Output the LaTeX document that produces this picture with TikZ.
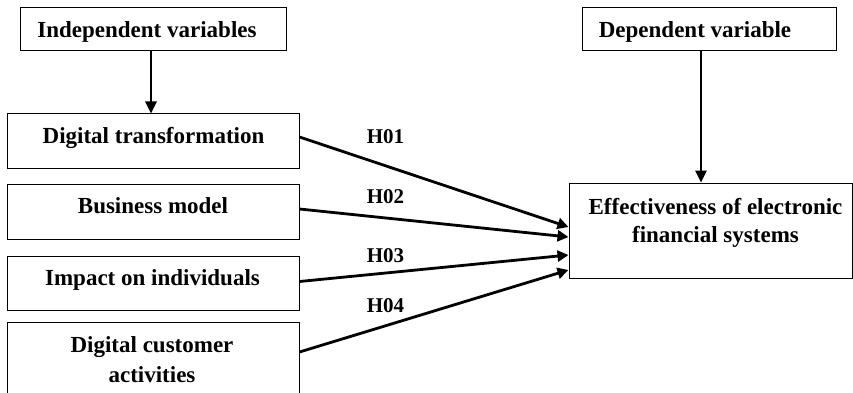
\documentclass[tikz,border=0pt]{standalone}
\usepackage{fontspec}
\setmainfont{Liberation Serif}
\usetikzlibrary{arrows.meta}
\tikzset{
  box/.style={draw=black, line width=1pt, rectangle, inner sep=0pt},
  txt/.style={font=\bfseries\fontsize{23}{28}\selectfont, inner sep=0pt, anchor=base, align=center},
  hyp/.style={font=\bfseries\fontsize{21}{25}\selectfont, inner sep=0pt, anchor=base},
  arr/.style={line width=2.8pt, -{Triangle[length=11pt,width=11pt]}},
  varr/.style={line width=2.6pt, -{Triangle[length=12pt,width=11pt]}}
}
\begin{document}
\begin{tikzpicture}[x=1pt,y=-1pt]
\useasboundingbox (0,0) rectangle (853,393);
\clip (0,0) rectangle (853,393);
% boxes
\node[box, minimum width=266pt, minimum height=43pt] (indep) at (153,29.5) {};
\node[box, minimum width=254pt, minimum height=43pt] (dep) at (709,29.5) {};
\node[box, minimum width=292pt, minimum height=54pt] (dt) at (153,141) {};
\node[box, minimum width=292pt, minimum height=55pt] (bm) at (153,211.5) {};
\node[box, minimum width=292pt, minimum height=54pt] (imp) at (153,283) {};
\node[box, minimum width=292pt, minimum height=80pt] (dca) at (153,362) {};
\node[box, minimum width=283pt, minimum height=95pt] (eff) at (710.5,230.5) {};
% texts
\node[txt] (indept) at (147,38) {Independent variables};
\node[txt] (dept) at (695,38) {Dependent variable};
\node[txt] (dtt) at (153.5,143) {Digital transformation};
\node[txt] (bmt) at (153,213) {Business model};
\node[txt] (impt) at (152.5,285) {Impact on individuals};
\node[txt, font=\bfseries\fontsize{23}{30}\selectfont] (dcat) at (152,382) {Digital customer\\activities};
\node[txt] (efft) at (715.5,242) {Effectiveness of electronic\\financial systems};
% vertical arrows
\draw[varr] ([xshift=-2pt]indep.south) -- ([xshift=-2pt]indep.south |- dt.north);
\draw[varr] ([xshift=-8pt]dep.south) -- ([xshift=-8pt]dep.south |- eff.north);
% hypothesis arrows
\draw[arr] ([yshift=4pt]dt.east) -- ([yshift=3.5pt]eff.west);
\draw[arr] ([yshift=2.5pt]bm.east) -- ([yshift=-6.5pt]eff.west);
\draw[arr] ([yshift=1.5pt]imp.east) -- ([yshift=-24.5pt]eff.west);
\draw[arr] ([yshift=10pt]dca.east) -- ([yshift=-39.5pt]eff.west);
% labels
\node[hyp] (h1) at (385.5,143) {H01};
\node[hyp] (h2) at (385.5,203) {H02};
\node[hyp] (h3) at (385.5,262) {H03};
\node[hyp] (h4) at (385.5,312) {H04};
\end{tikzpicture}
\end{document}
